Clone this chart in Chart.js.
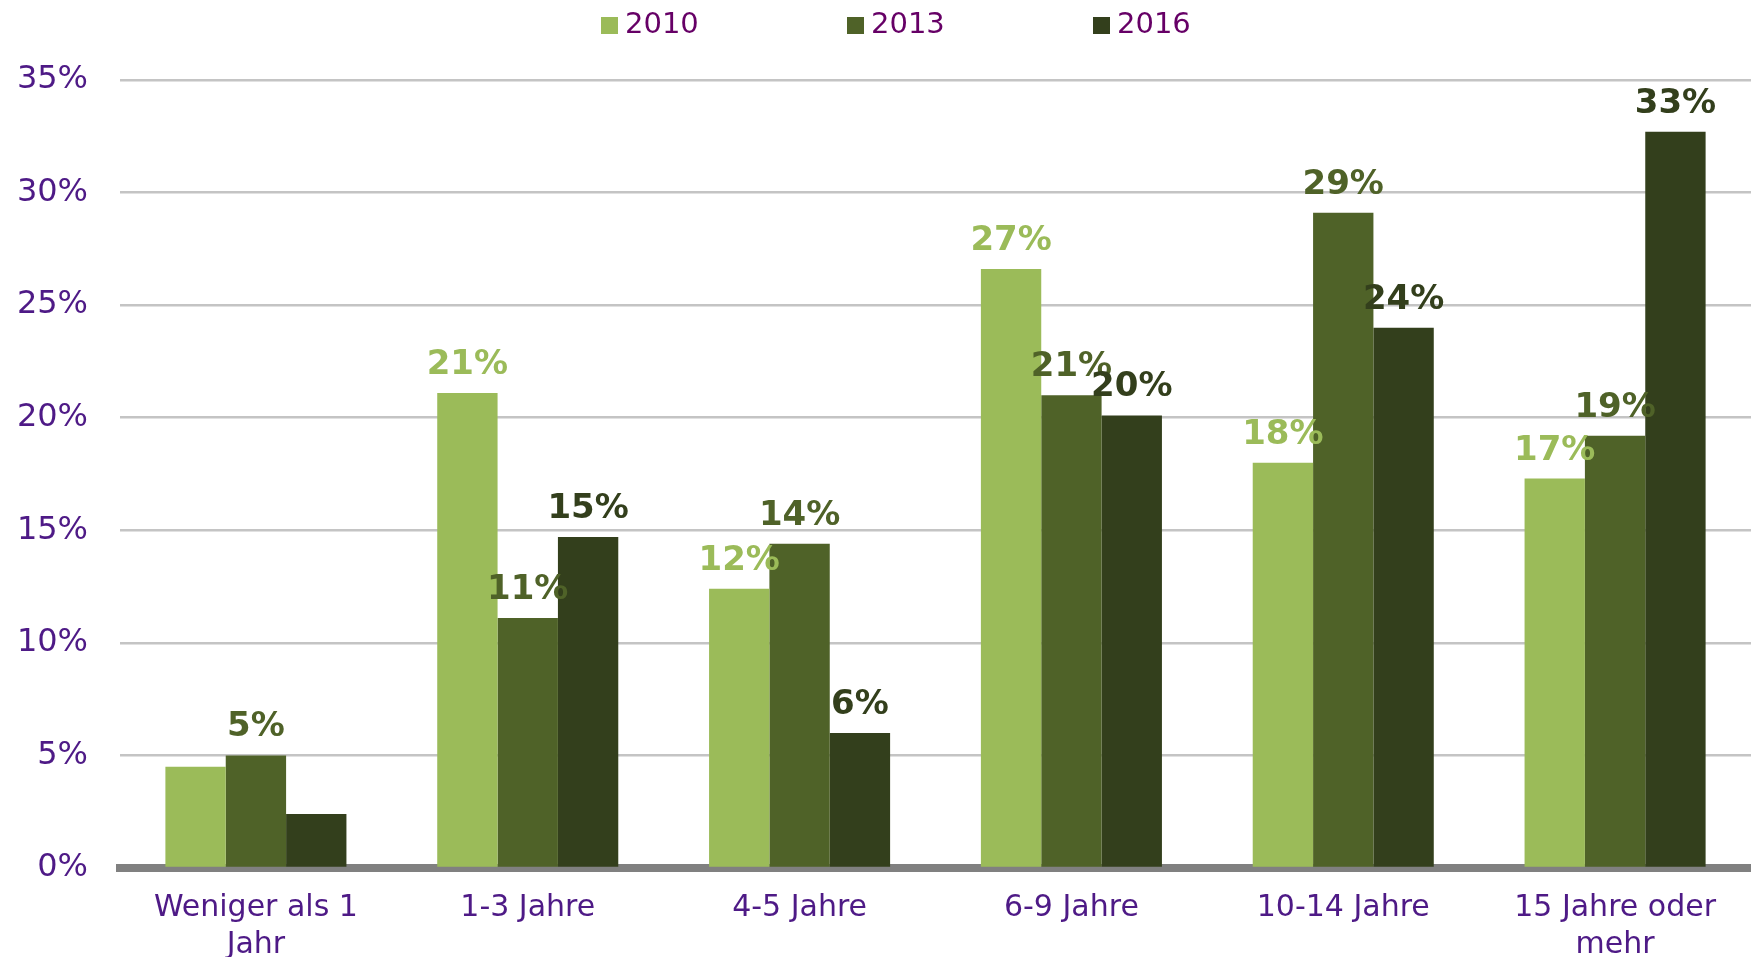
<!DOCTYPE html>
<html>
<head>
<meta charset="utf-8">
<script src="https://cdn.jsdelivr.net/npm/chart.js@4"></script>
<style>
  body { margin: 0; background: #ffffff; }
  #wrap { position: relative; width: 1751px; height: 957px; }
  #legend { position: absolute; left: 0; top: 0; width: 1751px; height: 50px; font-family: 'DejaVu Sans', Verdana, sans-serif; font-size: 29px; color: #660066; }
  .item { position: absolute; top: 5px; height: 36px; line-height: 36px; white-space: nowrap; }
  .box { display: inline-block; width: 17px; height: 17px; margin-right: 7px; vertical-align: -1px; }
</style>
</head>
<body>
<div id="wrap">
  <canvas id="chart" width="1751" height="957"></canvas>
  <div id="legend"></div>
</div>
<script>
// categories and values (percent)
var categories = [['Weniger als 1', 'Jahr'], '1-3 Jahre', '4-5 Jahre', '6-9 Jahre', '10-14 Jahre', ['15 Jahre oder', 'mehr']];
var years = ['2010', '2013', '2016'];
var values2010 = [4.5, 21.1, 12.4, 26.6, 18.0, 17.3];
var values2013 = [5.0, 11.1, 14.4, 21.0, 29.1, 19.2];
var values2016 = [2.4, 14.7, 6.0, 20.1, 24.0, 32.7];
// which bars get a value label
var show2010 = [false, true, true, true, true, true];
var show2013 = [true, true, true, true, true, true];
var show2016 = [false, true, true, true, true, true];
var yTicks = [0, 5, 10, 15, 20, 25, 30, 35];

var colors = ['#9BBB59', '#4F6228', '#333F1C'];
var axisText = '#4E1A86';
const canvas = document.getElementById('chart');

// legend above the plot
var legendX = [601, 847, 1093];
var legend = document.getElementById('legend');
years.forEach(function(y, i) {
    var item = document.createElement('div');
    item.className = 'item';
    item.style.left = legendX[i] + 'px';
    item.innerHTML = '<span class="box" style="background:' + colors[i] + '"></span>' + y;
    legend.append(item);
});

// labels above bars
var barLabels = {
    id: 'barLabels',
    afterDatasetsDraw(chart) {
        const ctx = chart.ctx;
        const shows = [show2010, show2013, show2016];
        ctx.save();
        ctx.font = 'bold 34px "DejaVu Sans", Verdana, sans-serif';
        ctx.textAlign = 'center';
        ctx.textBaseline = 'alphabetic';
        chart.data.datasets.forEach(function(ds, d) {
            const meta = chart.getDatasetMeta(d);
            meta.data.forEach(function(bar, i) {
                if (!shows[d][i]) return;
                ctx.fillStyle = colors[d];
                ctx.fillText(Math.round(ds.data[i]) + '%', bar.x, bar.y - 19);
            });
        });
        ctx.restore();
    }
};

new Chart(canvas, {
    type: 'bar',
    data: {
        labels: categories,
        datasets: [
            { label: years[0], data: values2010, backgroundColor: colors[0] },
            { label: years[1], data: values2013, backgroundColor: colors[1] },
            { label: years[2], data: values2016, backgroundColor: colors[2] }
        ]
    },
    options: {
        responsive: false,
        animation: false,
        devicePixelRatio: 1,
        categoryPercentage: 0.666,
        barPercentage: 1.0,
        layout: { padding: { top: 80, left: 0, right: 0, bottom: 0 } },
        plugins: {
            legend: { display: false },
            tooltip: { enabled: false }
        },
        scales: {
            x: {
                z: 1,
                grid: { display: false, drawTicks: false },
                border: { display: true, color: '#808080', width: 8 },
                ticks: {
                    color: axisText,
                    padding: 21,
                    maxRotation: 0,
                    autoSkip: false,
                    font: { family: "'DejaVu Sans', Verdana, sans-serif", size: 30, lineHeight: 1.25 }
                },
                afterFit: function(scale) { scale.height = 89; }
            },
            y: {
                min: 0,
                max: 35,
                afterBuildTicks: function(scale) {
                    scale.ticks = yTicks.map(function(v) { return { value: v }; });
                },
                grid: { color: '#c4c4c4', lineWidth: 2.5, drawTicks: false },
                border: { display: false },
                ticks: {
                    color: axisText,
                    padding: 32,
                    font: { family: "'DejaVu Sans', Verdana, sans-serif", size: 32 },
                    callback: function(v) { return v + '%'; }
                },
                afterFit: function(scale) { scale.width = 120; }
            }
        }
    },
    plugins: [barLabels]
});
</script>
</body>
</html>
